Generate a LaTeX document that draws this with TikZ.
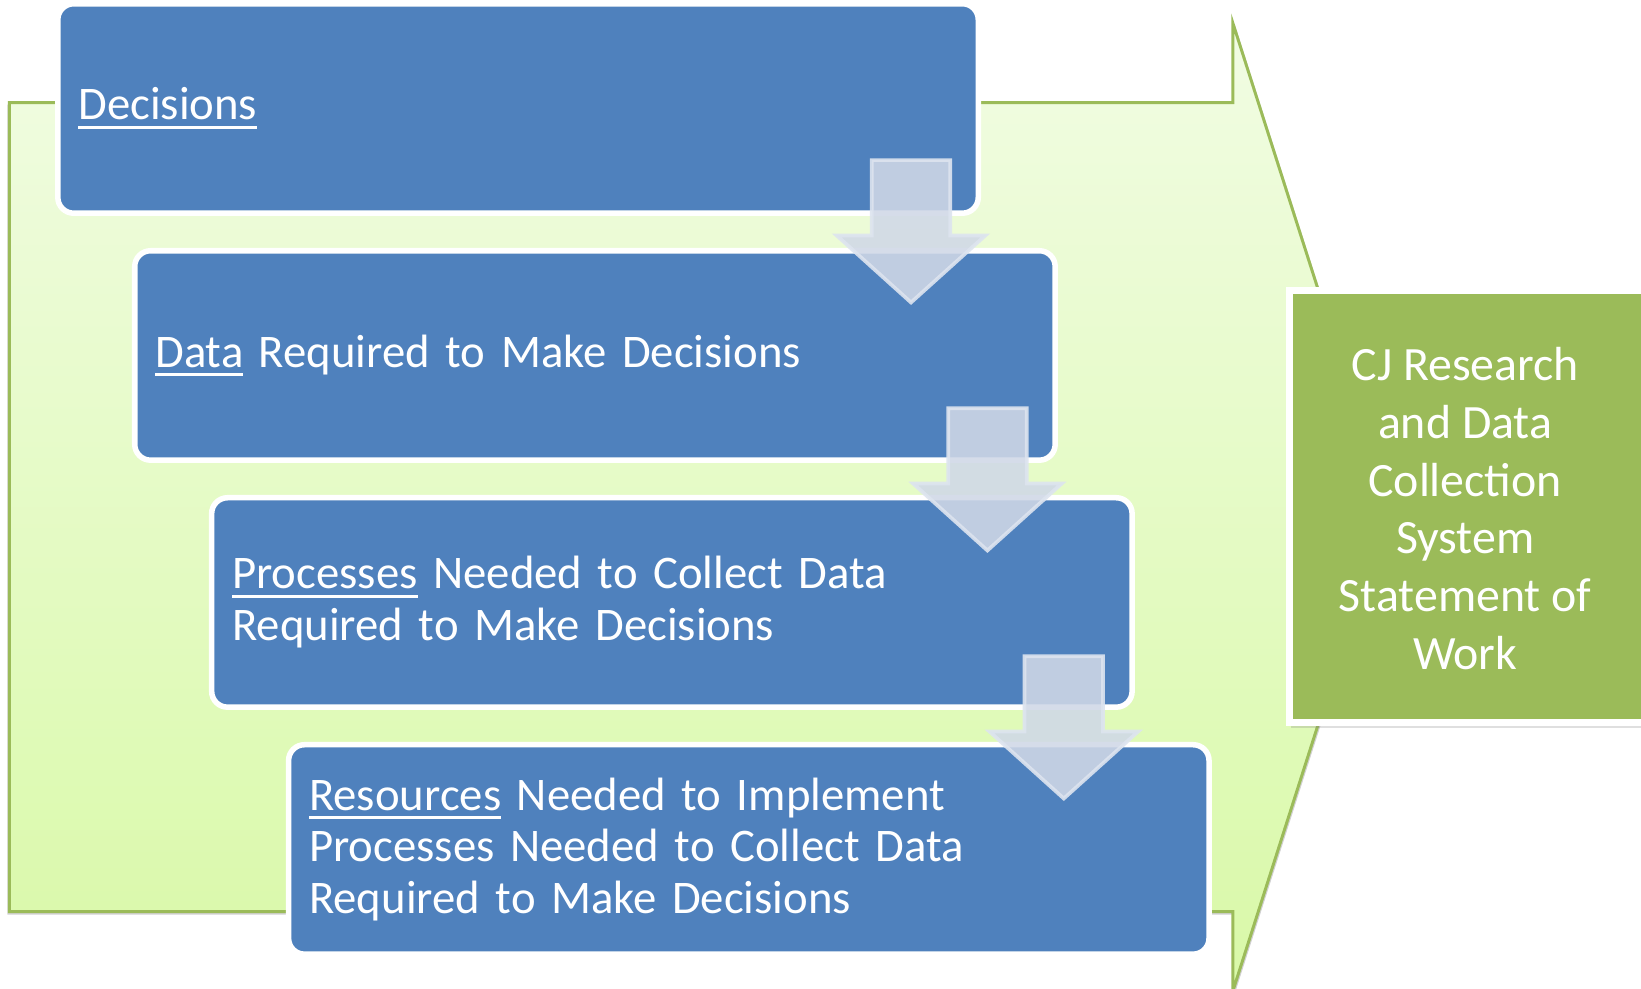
\documentclass[tikz,border=0pt]{standalone}
\usepackage{fontspec}
\setmainfont{Carlito}
\usetikzlibrary{shadows}
\definecolor{cjblue}{HTML}{4F81BD}
\definecolor{cjgreen}{HTML}{9BBB59}
\definecolor{bgtop}{HTML}{F1FCE3}
\definecolor{bgbot}{HTML}{D9F9A8}
\definecolor{arrfill}{HTML}{D0D8E7}
\definecolor{arredge}{HTML}{DDE4EF}
\newcommand{\uln}[1]{\setbox0\hbox{#1}\rlap{\rule[-2.5pt]{\wd0}{0.8pt}}\box0\relax}
\begin{document}
\begin{tikzpicture}[x=0.01cm,y=-0.01cm,
  bluebox/.style={draw=white, line width=1.5pt, fill=cjblue, rounded corners=4.3pt,
    minimum width=8.79cm, minimum height=2.0cm, text width=8.398cm, inner xsep=0.196cm,
    align=left, text=white, font=\fontsize{12.7}{14.1}\selectfont},
  flowarrow/.style={fill=arrfill, fill opacity=0.88, draw=arredge, draw opacity=0.9, line width=1pt},
  greenbox/.style={draw=white, line width=1.9pt, fill=cjgreen, minimum width=3.475cm,
    minimum height=4.128cm,
    drop shadow={shadow xshift=0.3pt, shadow yshift=-1.5pt, opacity=0.25}},
  sowtext/.style={align=center, text=white, font=\fontsize{13}{15.7}\selectfont},
  downarr/.pic={\path[flowarrow] (-37.5,0) -- (37.5,0) -- (37.5,72) -- (71,72) -- (0,136)
     -- (-71,72) -- (-37.5,72) -- cycle;}
]
\useasboundingbox (0,0) rectangle (1568,945);
% big background arrow
\fill[black, opacity=0.18] (7,100) -- (1180,100) -- (1180,24) -- (1328,486.5) -- (1180,949) -- (1180,874) -- (7,874) -- cycle;
\draw[cjgreen, line width=0.8pt, top color=bgtop, bottom color=bgbot]
  (9,98) -- (1178,98) -- (1178,22) -- (1326,484.5) -- (1178,947) -- (1178,871) -- (9,871) -- cycle;
% blue boxes
\node[bluebox] (b1) at (495,103.65) {\uln{Decisions}};
\node[bluebox] (b2) at (568.5,339.65) {\uln{Data} Required to Make Decisions};
\node[bluebox] (b3) at (642,575.65) {\uln{Processes} Needed to Collect Data\\Required to Make Decisions};
\node[bluebox] (b4) at (715.5,811.65) {\uln{Resources} Needed to Implement\\Processes Needed to Collect Data\\Required to Make Decisions};
% down arrows
\pic at (870.5,153) {downarr};
\pic at (943.5,390) {downarr};
\pic at (1016.5,627) {downarr};
% right box
\node[greenbox] (sow) at (1406.25,483.9) {};
\node[sowtext] (sowlabel) at (1400,486) {CJ Research\\and Data\\Collection\\System\\Statement of\\Work};
\end{tikzpicture}
\end{document}
